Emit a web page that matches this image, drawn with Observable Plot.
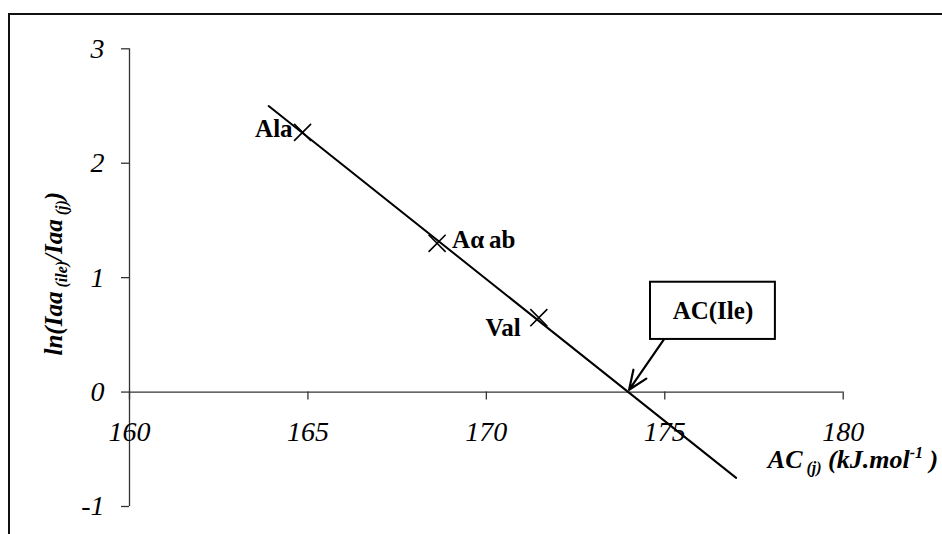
<!DOCTYPE html>
<html>
<head>
<meta charset="utf-8">
<script src="https://cdn.jsdelivr.net/npm/d3@7"></script>
<script src="https://cdn.jsdelivr.net/npm/@observablehq/plot@0.6"></script>
<style>
html, body { margin: 0; padding: 0; overflow: hidden; background: #fff; width: 942px; height: 534px; }
#chart { position: absolute; left: 0; top: 0; }
#chart svg, #chart svg text { font-family: "Liberation Serif", "Times New Roman", "DejaVu Serif", serif !important; }
#border { position: absolute; left: 8px; top: 13px; width: 1000px; height: 600px; border: 2px solid #111; pointer-events: none; }
</style>
</head>
<body>
<div id="chart"></div>
<div id="border"></div>
<script>
// ---- data ----
const aminoAcids = ["Ala", "Aα\u2009ab", "Val"];
const acValues = [164.85, 168.62, 171.47];
const lnRatios = [2.27, 1.30, 0.65];
const fitX = [163.9, 177.0];
const fitY = [2.5, -0.75];
const xTicks = [160, 165, 170, 175, 180];
const yTicks = [-1, 0, 1, 2, 3];
const calloutLabel = "AC(Ile)";
const calloutBoxX = [174.6, 178.1];
const calloutBoxY = [0.46, 0.96];
const calloutArrowX = [175.02, 174.0];
const calloutArrowY = [0.48, 0.02];
const xLabelParts = [["AC", ""], [" (j)", "sub"], [" (kJ.mol", ""], ["-1", "sup"], [" )", ""]];
const yLabelParts = [["ln(Iaa", ""], [" (ile)", "sub"], ["/Iaa", ""], [" (j)", "sub"], [")", ""]];

const points = aminoAcids.map((name, i) => ({name, ac: acValues[i], ln: lnRatios[i]}));
const fitLine = fitX.map((x, i) => ({x, y: fitY[i]}));
const xLabelText = xLabelParts.map(d => d[0]).join("");
const yLabelText = yLabelParts.map(d => d[0]).join("");

const serif = "Liberation Serif, Times New Roman, DejaVu Serif, serif";
const labelStyle = {fontWeight: "bold", fontSize: 25, fill: "#000", fontFamily: serif};
const tickStyle = {fontStyle: "italic", fontSize: 28, fill: "#000", fontFamily: serif};

const chart = Plot.plot({
  width: 942,
  height: 534,
  marginLeft: 129,
  marginRight: 99.3,
  marginTop: 48.3,
  marginBottom: 28,
  x: {domain: [160, 180], axis: null},
  y: {domain: [-1, 3], axis: null},
  style: {fontFamily: serif, color: "#000", background: "transparent", overflow: "visible"},
  marks: [
    // axes
    Plot.ruleY([0], {x1: 160, x2: 180, stroke: "#333", strokeWidth: 1.3}),
    Plot.ruleX([160], {y1: -1, y2: 3, stroke: "#333", strokeWidth: 1.3}),
    Plot.ruleX(xTicks, {x: d => d, y1: 0, y2: 0, insetBottom: -8, stroke: "#333", strokeWidth: 1.3}),
    Plot.ruleY(yTicks, {y: d => d, x1: 160, x2: 160, insetLeft: -8, stroke: "#333", strokeWidth: 1.3}),
    Plot.text(xTicks, {x: d => d, y: 0, text: d => String(d), dy: 40, ...tickStyle}),
    Plot.text(yTicks, {x: 160, y: d => d, text: d => String(d), dx: -25, textAnchor: "end", ...tickStyle}),
    // fit line
    Plot.line(fitLine, {x: "x", y: "y", stroke: "#000", strokeWidth: 2}),
    // points
    Plot.dot(points, {x: "ac", y: "ln", symbol: "times", r: 7.8, stroke: "#000", strokeWidth: 1.6}),
    // point labels
    Plot.text(points.filter(d => d.name === "Ala"), {x: "ac", y: "ln", text: "name", textAnchor: "end", dx: -10, dy: -3, ...labelStyle}),
    Plot.text(points.filter(d => d.name.startsWith("A") && d.name !== "Ala"), {x: "ac", y: "ln", text: "name", textAnchor: "start", dx: 15, dy: -3, ...labelStyle}),
    Plot.text(points.filter(d => d.name === "Val"), {x: "ac", y: "ln", text: "name", textAnchor: "end", dx: -18, dy: 10, ...labelStyle}),
    // callout
    Plot.arrow([0], {x1: calloutArrowX[0], y1: calloutArrowY[0], x2: calloutArrowX[1], y2: calloutArrowY[1], stroke: "#000", strokeWidth: 2.2, headLength: 14, headAngle: 45}),
    Plot.rect([0], {x1: calloutBoxX[0], x2: calloutBoxX[1], y1: calloutBoxY[0], y2: calloutBoxY[1], fill: "white", stroke: "#000", strokeWidth: 2}),
    Plot.text([calloutLabel], {x: (calloutBoxX[0] + calloutBoxX[1]) / 2, y: (calloutBoxY[0] + calloutBoxY[1]) / 2, text: d => d, ...labelStyle}),
    // axis titles
    Plot.text([xLabelText], {x: 180, y: 0, text: d => d, textAnchor: "end", dx: 95, dy: 68, fontStyle: "italic", ...labelStyle, fontSize: 26}),
    Plot.text([yLabelText], {frameAnchor: "left", textAnchor: "middle", text: d => d, rotate: -90, dx: -76, dy: -4, fontStyle: "italic", ...labelStyle})
  ]
});

function richText(node, parts) {
  const ns = "http://www.w3.org/2000/svg";
  node.textContent = "";
  node.style.whiteSpace = "pre";
  let shift = 0;
  for (const [t, kind] of parts) {
    const target = kind === "sub" ? 5 : kind === "sup" ? -10 : 0;
    const ts = document.createElementNS(ns, "tspan");
    ts.textContent = t;
    if (target !== shift) ts.setAttribute("dy", target - shift);
    shift = target;
    if (kind) ts.setAttribute("font-size", 16);
    node.appendChild(ts);
  }
}

d3.select(chart).selectAll("text").each(function () {
  if (this.textContent === xLabelText) richText(this, xLabelParts);
  else if (this.textContent === yLabelText) richText(this, yLabelParts);
});

document.getElementById("chart").appendChild(chart);
</script>
</body>
</html>
